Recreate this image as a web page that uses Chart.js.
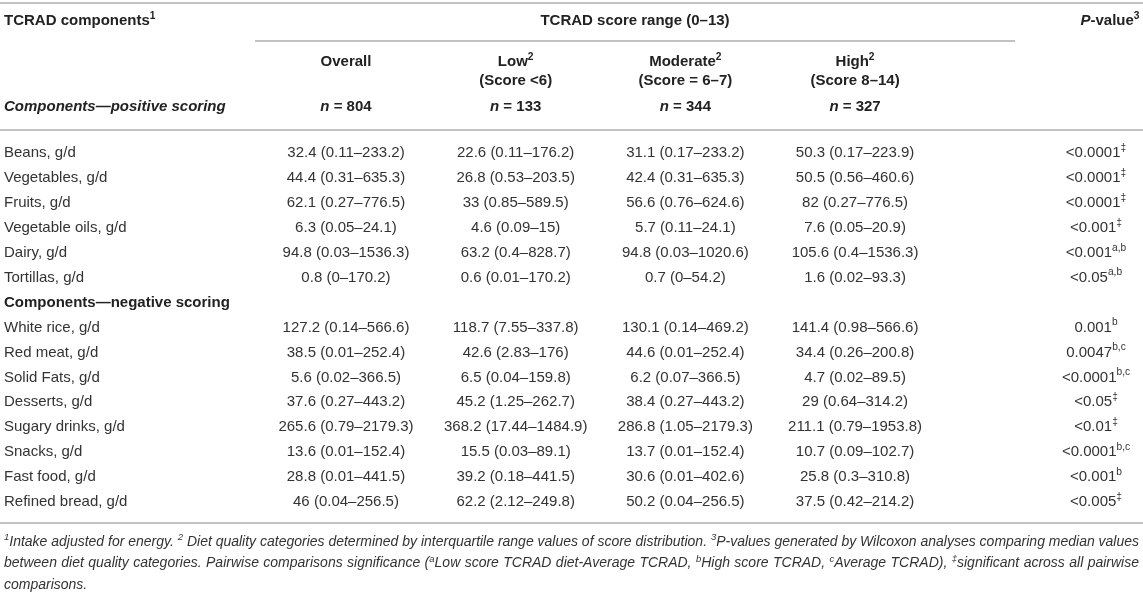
<!DOCTYPE html>
<html>
<head>
<meta charset="utf-8">
<script src="https://cdn.jsdelivr.net/npm/chart.js@4.4.0/dist/chart.umd.min.js"></script>
<style>
    html, body { margin: 0; padding: 0; background: #fff; }
    #tabla { display: block; }
</style>
</head>
<body>
<canvas id="tabla" width="1143" height="612"></canvas>
<script>
// Filas (componentes del TCRAD)
const componentes = ['Beans, g/d', 'Vegetables, g/d', 'Fruits, g/d', 'Vegetable oils, g/d', 'Dairy, g/d', 'Tortillas, g/d',
    'Components—negative scoring',
    'White rice, g/d', 'Red meat, g/d', 'Solid Fats, g/d', 'Desserts, g/d', 'Sugary drinks, g/d', 'Snacks, g/d', 'Fast food, g/d', 'Refined bread, g/d'];

// Mediana (rango) por grupo
const overall = ['32.4 (0.11–233.2)', '44.4 (0.31–635.3)', '62.1 (0.27–776.5)', '6.3 (0.05–24.1)', '94.8 (0.03–1536.3)', '0.8 (0–170.2)', null,
    '127.2 (0.14–566.6)', '38.5 (0.01–252.4)', '5.6 (0.02–366.5)', '37.6 (0.27–443.2)', '265.6 (0.79–2179.3)', '13.6 (0.01–152.4)', '28.8 (0.01–441.5)', '46 (0.04–256.5)'];
const low = ['22.6 (0.11–176.2)', '26.8 (0.53–203.5)', '33 (0.85–589.5)', '4.6 (0.09–15)', '63.2 (0.4–828.7)', '0.6 (0.01–170.2)', null,
    '118.7 (7.55–337.8)', '42.6 (2.83–176)', '6.5 (0.04–159.8)', '45.2 (1.25–262.7)', '368.2 (17.44–1484.9)', '15.5 (0.03–89.1)', '39.2 (0.18–441.5)', '62.2 (2.12–249.8)'];
const moderate = ['31.1 (0.17–233.2)', '42.4 (0.31–635.3)', '56.6 (0.76–624.6)', '5.7 (0.11–24.1)', '94.8 (0.03–1020.6)', '0.7 (0–54.2)', null,
    '130.1 (0.14–469.2)', '44.6 (0.01–252.4)', '6.2 (0.07–366.5)', '38.4 (0.27–443.2)', '286.8 (1.05–2179.3)', '13.7 (0.01–152.4)', '30.6 (0.01–402.6)', '50.2 (0.04–256.5)'];
const high = ['50.3 (0.17–223.9)', '50.5 (0.56–460.6)', '82 (0.27–776.5)', '7.6 (0.05–20.9)', '105.6 (0.4–1536.3)', '1.6 (0.02–93.3)', null,
    '141.4 (0.98–566.6)', '34.4 (0.26–200.8)', '4.7 (0.02–89.5)', '29 (0.64–314.2)', '211.1 (0.79–1953.8)', '10.7 (0.09–102.7)', '25.8 (0.3–310.8)', '37.5 (0.42–214.2)'];
const pValor = ['<0.0001^‡^', '<0.0001^‡^', '<0.0001^‡^', '<0.001^‡^', '<0.001^a,b^', '<0.05^a,b^', null,
    '0.001^b^', '0.0047^b,c^', '<0.0001^b,c^', '<0.05^‡^', '<0.01^‡^', '<0.0001^b,c^', '<0.001^b^', '<0.005^‡^'];

// Encabezados (^x^ = superíndice, *x* = cursiva)
const grupos = ['Overall', 'Low^2^', 'Moderate^2^', 'High^2^'];
const rangos = ['', '(Score <6)', '(Score = 6–7)', '(Score 8–14)'];
const tamanos = ['*n* = 804', '*n* = 133', '*n* = 344', '*n* = 327'];

const notas = [
    '^1^Intake adjusted for energy. ^2^ Diet quality categories determined by interquartile range values of score distribution. ^3^P-values generated by Wilcoxon analyses comparing median values',
    'between diet quality categories. Pairwise comparisons significance (^a^Low score TCRAD diet-Average TCRAD, ^b^High score TCRAD, ^c^Average TCRAD), ^‡^significant across all pairwise',
    'comparisons.'
];

// Posición de cada columna sobre el eje x
const columnas = [overall, low, moderate, high, pValor];
const posColumna = [1, 2, 3, 4, 5.42];

const FAMILIA = '"Liberation Sans", Arial, Helvetica, sans-serif';
const colorTexto = '#333';
const colorLinea = '#c2c2c2';
const margen = 4;

function partes(txt) {
    return txt.split(/(\^[^^]*\^|\*[^*]*\*)/).filter(s => s).map(s => {
        if (s[0] === '^') return { t: s.slice(1, -1), sup: true };
        if (s[0] === '*') return { t: s.slice(1, -1), it: true };
        return { t: s };
    });
}

function fuente(base, p) {
    const size = p.sup ? base.size * 0.68 : base.size;
    return (base.italic || p.it ? 'italic ' : '') + (base.bold ? 'bold ' : '') + size + 'px ' + FAMILIA;
}

// Escribe texto con superíndices; align: left|center; ancho = justificar; escala = condensar
function escribir(ctx, txt, x, y, base, align, ancho, escala) {
    const ps = partes(txt);
    let total = 0;
    let espacios = 0;
    ps.forEach(p => {
        ctx.font = fuente(base, p);
        p.w = ctx.measureText(p.t).width;
        total += p.w;
        espacios += (p.t.match(/ /g) || []).length;
    });
    ctx.save();
    ctx.fillStyle = base.color || colorTexto;
    ctx.textBaseline = 'middle';
    ctx.textAlign = 'left';
    let extra = 0;
    let cx = align === 'center' ? x - total / 2 : x;
    let k = escala || 1;
    if (ancho) {
        if (total > ancho) k = ancho / total;
        else if (espacios) extra = (ancho - total) / espacios;
    }
    if (k !== 1) {
        ctx.translate(x, 0);
        ctx.scale(k, 1);
        cx = 0;
    }
    ps.forEach(p => {
        ctx.font = fuente(base, p);
        const dy = p.sup ? -base.size * 0.33 : 0;
        const palabras = p.t.split(' ');
        palabras.forEach((w, i) => {
            ctx.fillText(w, cx, y + dy);
            cx += ctx.measureText(w).width;
            if (i < palabras.length - 1) cx += ctx.measureText(' ').width + extra;
        });
    });
    ctx.restore();
    return k;
}

function linea(ctx, x1, x2, y) {
    ctx.save();
    ctx.strokeStyle = colorLinea;
    ctx.lineWidth = 2;
    ctx.beginPath();
    ctx.moveTo(x1, y);
    ctx.lineTo(x2, y);
    ctx.stroke();
    ctx.restore();
}

const normal = { size: 15 };
const negrita = { size: 15, bold: true, color: '#222' };

const pluginTabla = {
    id: 'tabla',
    afterDatasetsDraw(chart) {
        const ctx = chart.ctx;
        const x = chart.scales.x;
        const y = chart.scales.y;
        const ancho = chart.width;

        // celdas de valores, en la posición de cada punto
        chart.data.datasets.forEach((ds, d) => {
            const meta = chart.getDatasetMeta(d);
            meta.data.forEach((pt, j) => {
                escribir(ctx, ds.data[j].texto, pt.x, pt.y, normal, 'center');
            });
        });

        // primera columna
        componentes.forEach((c, i) => {
            const seccion = c.startsWith('Components');
            escribir(ctx, c, margen, y.getPixelForValue(i), seccion ? negrita : normal, 'left');
        });

        // encabezado
        linea(ctx, 0, ancho, 3);
        escribir(ctx, 'TCRAD components^1^', margen, 21, negrita, 'left');
        escribir(ctx, 'TCRAD score range (0–13)', 635, 21, negrita, 'center');
        escribir(ctx, '*P*-value^3^', x.getPixelForValue(posColumna[4]) + 14, 21, negrita, 'center');
        linea(ctx, 255, 1015, 41);
        grupos.forEach((g, k) => {
            const px = x.getPixelForValue(posColumna[k]);
            escribir(ctx, g, px, 62, negrita, 'center');
            if (rangos[k]) escribir(ctx, rangos[k], px, 81, negrita, 'center');
            escribir(ctx, tamanos[k], px, 107, negrita, 'center');
        });
        escribir(ctx, '*Components—positive scoring*', margen, 107, negrita, 'left');
        linea(ctx, 0, ancho, 130);

        // pie de tabla
        const fondo = y.getPixelForValue(componentes.length - 1) + 21;
        linea(ctx, 0, ancho, fondo);
        const nota = { size: 14, italic: true };
        let k = 1;
        notas.forEach((n, i) => {
            const just = i < notas.length - 1 ? ancho - 2 * margen : null;
            k = escribir(ctx, n, margen, fondo + 19 + i * 21.5, nota, 'left', just, just ? null : k);
        });
    }
};

const datasets = columnas.map((col, c) => ({
    label: 'col' + c,
    data: col.map((v, i) => v === null ? null : { x: posColumna[c], y: componentes[i], texto: v })
             .filter(p => p !== null),
    pointRadius: 0,
    pointHoverRadius: 0,
    showLine: false
}));

new Chart(document.getElementById('tabla').getContext('2d'), {
    type: 'scatter',
    data: { datasets: datasets },
    options: {
        responsive: false,
        animation: false,
        events: [],
        layout: { padding: { left: 0, right: 0, top: 140.5, bottom: 97.5 } },
        plugins: {
            legend: { display: false },
            tooltip: { enabled: false }
        },
        scales: {
            x: { type: 'linear', min: -1.039, max: 5.697, display: false },
            y: { type: 'category', labels: componentes, offset: true, display: false }
        }
    },
    plugins: [pluginTabla]
});
</script>
</body>
</html>
